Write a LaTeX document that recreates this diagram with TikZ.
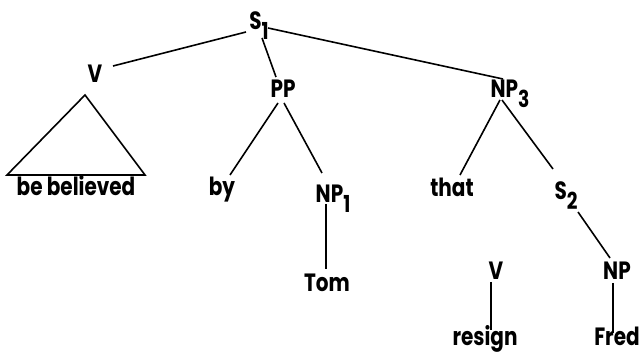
\documentclass[tikz,border=0pt]{standalone}
\usepackage{fontspec}
\setmainfont{Poppins}
\newcommand{\lsub}[1]{\raisebox{-5.5pt}{\fontsize{14}{14}\selectfont #1}}
\begin{document}
\begin{tikzpicture}[x=0.75pt,y=-0.75pt,
  lbl/.style={inner sep=0pt, font=\fontsize{15}{15}\selectfont\bfseries, anchor=base, yscale=1.25, transform shape},
  edge/.style={line width=1.2pt}]
\useasboundingbox (0,0) rectangle (642,352);
% nodes
\node[lbl] (s1) at (259,30) {S\lsub{1}};
\node[lbl] (v) at (95,83) {V};
\node[lbl] (pp) at (283,98) {PP};
\node[lbl] (np3) at (510,98) {NP\lsub{3}};
\node[lbl] (bb) at (76,196) {be believed};
\node[lbl] (by) at (222,196) {by};
\node[lbl] (np1) at (333,203) {NP\lsub{1}};
\node[lbl] (that) at (452,197) {that};
\node[lbl] (s2) at (566,200) {S\lsub{2}};
\node[lbl] (tom) at (327,292) {Tom};
\node[lbl] (vr) at (496,280) {V};
\node[lbl] (np) at (617,280) {NP};
\node[lbl] (resign) at (485,345) {resign};
\node[lbl] (fred) at (617,345) {Fred};
% triangle under V
\coordinate (apex) at (85,95);
\coordinate (bl) at (7,175);
\coordinate (br) at (145,175);
\draw[edge] (apex) -- (bl) -- (br) -- cycle;
% edges
\draw[edge] ([shift={(-13,2)}]s1.base) -- ([shift={(18,-17)}]v.base);
\draw[edge] ([shift={(3,8)}]s1.base) -- ([shift={(-7,-21)}]pp.base);
\draw[edge] ([shift={(9,-2)}]s1.base) -- ([shift={(-7,-19)}]np3.base);
\draw[edge] ([shift={(-5,5)}]pp.base) -- ([shift={(8,-21)}]by.base);
\draw[edge] ([shift={(1,5)}]pp.base) -- ([shift={(-11,-30)}]np1.base);
\draw[edge] ([shift={(-7,1)}]np1.base) -- ([shift={(-1,-23)}]tom.base);
\draw[edge] ([shift={(-10,2)}]np3.base) -- ([shift={(8,-22)}]that.base);
\draw[edge] ([shift={(-8,2)}]np3.base) -- ([shift={(-13,-31)}]s2.base);
\draw[edge] ([shift={(12,12)}]s2.base) -- ([shift={(-7,-22)}]np.base);
\draw[edge] ([shift={(-5,2)}]vr.base) -- ([shift={(6,-15)}]resign.base);
\draw[edge] ([shift={(-4,3)}]np.base) -- ([shift={(-4,-12)}]fred.base);
\end{tikzpicture}
\end{document}
